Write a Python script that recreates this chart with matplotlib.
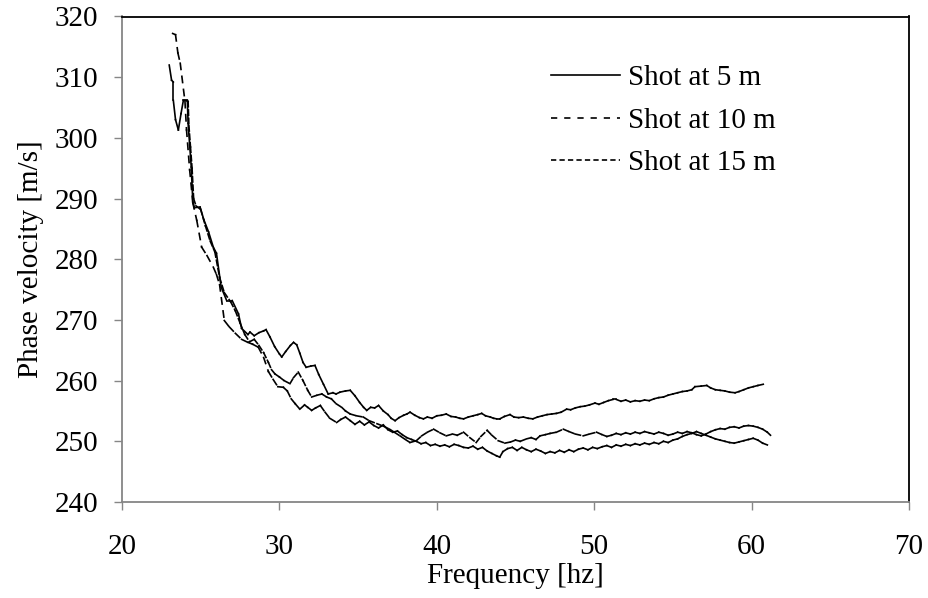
import matplotlib
matplotlib.use("Agg")
import matplotlib.pyplot as plt
from matplotlib.collections import LineCollection
from matplotlib.lines import Line2D
import numpy as np

plt.rcParams["font.family"] = ["Liberation Serif", "DejaVu Serif"]
plt.rcParams["lines.scale_dashes"] = False

# Shot at 5 m
freq_5m = [23.0, 23.15, 23.26, 23.26, 23.4, 23.58, 23.75, 23.9, 24.15, 24.2, 24.3, 24.4,
           24.5, 24.6, 24.96, 25.2, 25.5, 25.8, 26.0, 26.3, 26.65, 27.0, 27.4, 27.6,
           28.0, 28.13, 28.4, 28.7, 29.0, 29.15, 29.4, 29.7, 30.0, 30.15, 30.4, 30.7,
           30.9, 31.1, 31.3, 31.5, 31.7, 32.0, 32.26, 32.5, 32.8, 33.1, 33.4, 33.6,
           33.85, 34.2, 34.5, 34.8, 35.1, 35.35, 35.55, 35.8, 36.05, 36.3, 36.6, 36.9,
           37.1, 37.35, 37.6, 37.9, 38.1, 38.3, 38.6, 38.9, 39.15, 39.4, 39.7, 40.0,
           40.3, 40.6, 40.9, 41.2, 41.45, 41.7, 42.0, 42.3, 42.6, 42.85, 43.1, 43.4,
           43.6, 43.8, 44.0, 44.3, 44.65, 44.9, 45.2, 45.5, 45.8, 46.1, 46.4, 46.7,
           47.0, 47.3, 47.6, 47.9, 48.25, 48.5, 48.8, 49.1, 49.4, 49.7, 50.05, 50.3,
           50.6, 50.9, 51.2, 51.4, 51.7, 52.0, 52.3, 52.6, 52.9, 53.2, 53.5, 53.8,
           54.1, 54.4, 54.7, 55.0, 55.3, 55.6, 55.9, 56.2, 56.4, 56.8, 57.15, 57.4,
           57.7, 58.0, 58.3, 58.6, 58.95, 59.2, 59.5, 59.8, 60.1, 60.4, 60.74]
vel_5m = [312.0, 309.5, 309.2, 306.2, 303.0, 301.3, 304.0, 306.2, 306.2, 302.4, 298.8, 295.2,
          289.4, 288.5, 288.6, 286.5, 284.5, 282.0, 281.0, 275.4, 273.2, 273.2, 271.0, 268.6,
          267.6, 268.0, 267.4, 267.9, 268.2, 268.4, 267.2, 265.6, 264.4, 263.9, 264.8, 265.8,
          266.3, 265.9, 264.5, 263.0, 262.2, 262.4, 262.5, 261.0, 259.4, 257.8, 258.0, 257.8,
          258.1, 258.3, 258.4, 257.5, 256.4, 255.6, 255.1, 255.6, 255.5, 255.9, 255.0, 254.4,
          253.8, 253.4, 253.9, 254.3, 254.5, 254.8, 254.3, 253.9, 253.7, 254.0, 253.8, 254.2,
          254.3, 254.5, 254.1, 254.0, 253.8, 253.7, 254.0, 254.2, 254.4, 254.6, 254.2, 254.0,
          253.8, 253.7, 253.7, 254.1, 254.4, 254.0, 253.9, 254.0, 253.8, 253.7, 254.0, 254.2,
          254.4, 254.5, 254.6, 254.8, 255.3, 255.2, 255.5, 255.7, 255.8, 256.0, 256.3, 256.1,
          256.4, 256.7, 256.9, 256.9, 256.6, 256.8, 256.5, 256.7, 256.6, 256.8, 256.7, 257.0,
          257.2, 257.3, 257.6, 257.8, 258.0, 258.2, 258.3, 258.5, 259.0, 259.1, 259.2, 258.8,
          258.5, 258.4, 258.3, 258.1, 258.0, 258.2, 258.5, 258.8, 259.0, 259.2, 259.4]

# Shot at 10 m
freq_10m = [23.22, 23.4, 23.55, 23.7, 24.0, 24.1, 24.3, 24.5, 24.75, 25.06, 25.4, 25.8,
            26.0, 26.2, 26.5, 26.8, 27.2, 27.6, 28.0, 28.3, 28.66, 29.0, 29.3, 29.6,
            29.9, 30.25, 30.5, 30.75, 31.0, 31.3, 31.6, 31.8, 32.05, 32.3, 32.6, 32.9,
            33.2, 33.64, 33.9, 34.2, 34.5, 34.8, 35.1, 35.4, 35.7, 36.0, 36.3, 36.6,
            36.9, 37.2, 37.5, 37.8, 38.1, 38.4, 38.7, 39.0, 39.3, 39.6, 39.9, 40.2,
            40.5, 40.8, 41.1, 41.4, 41.7, 42.0, 42.3, 42.6, 42.9, 43.2, 43.5, 43.8,
            44.0, 44.2, 44.5, 44.8, 45.1, 45.4, 45.7, 46.0, 46.3, 46.6, 46.9, 47.2,
            47.5, 47.8, 48.1, 48.4, 48.7, 49.0, 49.3, 49.6, 49.9, 50.2, 50.5, 50.8,
            51.1, 51.4, 51.7, 52.0, 52.3, 52.6, 52.9, 53.2, 53.5, 53.8, 54.1, 54.4,
            54.7, 55.0, 55.3, 55.6, 55.9, 56.2, 56.5, 56.8, 57.1, 57.4, 57.7, 58.0,
            58.3, 58.6, 58.9, 59.2, 59.5, 59.8, 60.1, 60.4, 60.7, 61.0]
vel_10m = [317.2, 317.0, 314.0, 312.3, 306.0, 301.3, 294.7, 289.3, 286.4, 282.0, 280.6, 278.7,
           277.5, 275.8, 269.9, 268.9, 267.8, 266.8, 266.3, 266.0, 265.5, 263.8, 261.5, 260.2,
           259.0, 258.9, 258.3, 257.0, 256.2, 255.3, 256.0, 255.6, 255.1, 255.5, 255.9, 254.8,
           253.8, 253.1, 253.6, 254.0, 253.4, 252.8, 253.3, 252.7, 253.2, 252.6, 252.2, 252.7,
           251.9, 251.5, 251.7, 251.1, 250.6, 250.3, 250.0, 249.6, 249.8, 249.3, 249.5, 249.2,
           249.4, 249.1, 249.5, 249.3, 249.0, 248.9, 249.2, 248.7, 249.0, 248.4, 248.0, 247.6,
           247.4, 248.3, 248.8, 249.0, 248.5, 249.0, 248.6, 248.3, 248.7, 248.4, 248.0, 248.3,
           248.1, 248.5, 248.2, 248.6, 248.3, 248.7, 248.9, 248.6, 249.0, 248.8, 249.1, 249.3,
           249.0, 249.4, 249.2, 249.5, 249.3, 249.6, 249.4, 249.7, 249.5, 249.8, 249.6, 250.0,
           249.8, 250.2, 250.4, 250.8, 251.1, 251.3, 251.6, 251.3, 251.0, 250.7, 250.4, 250.2,
           250.0, 249.8, 249.7, 249.9, 250.1, 250.3, 250.5, 250.2, 249.7, 249.4]

# Shot at 15 m
freq_15m = [24.0, 24.2, 24.25, 24.35, 24.45, 24.55, 24.7, 25.0, 25.3, 25.6, 25.9, 26.2,
            26.5, 26.9, 27.2, 27.5, 27.8, 28.1, 28.4, 28.7, 29.0, 29.3, 29.5, 29.72,
            30.0, 30.3, 30.67, 30.9, 31.2, 31.5, 31.8, 32.05, 32.4, 32.7, 33.0, 33.3,
            33.6, 33.96, 34.2, 34.5, 34.9, 35.33, 35.7, 36.2, 36.6, 37.0, 37.3, 37.66,
            38.0, 38.3, 38.7, 39.04, 39.4, 39.8, 40.2, 40.6, 41.0, 41.3, 41.7, 42.1,
            42.5, 42.8, 43.2, 43.5, 43.9, 44.33, 44.7, 45.0, 45.3, 45.7, 46.0, 46.3,
            46.56, 46.9, 47.2, 47.6, 48.04, 48.4, 48.8, 49.3, 49.7, 50.15, 50.5, 50.8,
            51.1, 51.4, 51.7, 52.0, 52.3, 52.6, 52.9, 53.2, 53.5, 53.8, 54.1, 54.4,
            54.7, 55.0, 55.3, 55.6, 55.9, 56.2, 56.5, 56.8, 57.1, 57.4, 57.7, 58.0,
            58.3, 58.6, 58.9, 59.2, 59.5, 59.8, 60.1, 60.4, 60.7, 61.0, 61.2]
vel_15m = [306.2, 306.0, 302.0, 298.5, 295.0, 290.0, 288.8, 288.2, 285.5, 283.0, 281.2, 277.0,
           274.5, 273.0, 271.5, 269.5, 267.6, 266.4, 266.8, 265.8, 264.6, 263.0, 261.8, 261.1,
           260.6, 260.0, 259.5, 260.5, 261.4, 260.0, 258.4, 257.3, 257.6, 257.8, 257.3, 257.0,
           256.2, 255.6, 255.0, 254.5, 254.2, 254.0, 253.4, 252.9, 252.5, 252.0, 251.5, 250.9,
           250.3, 249.8, 250.1, 250.9, 251.5, 252.0, 251.4, 250.9, 251.2, 251.0, 251.5, 250.6,
           249.8, 250.8, 251.8, 251.0, 250.1, 249.7, 249.9, 250.2, 250.0, 250.4, 250.6, 250.3,
           250.9, 251.1, 251.3, 251.5, 252.0, 251.6, 251.2, 250.9, 251.2, 251.5, 251.1, 250.8,
           251.0, 251.3, 251.1, 251.4, 251.2, 251.5, 251.3, 251.6, 251.4, 251.2, 251.5, 251.3,
           251.0, 251.2, 251.5, 251.3, 251.6, 251.4, 251.1, 250.9, 251.2, 251.6, 251.9, 252.1,
           252.0, 252.3, 252.4, 252.2, 252.5, 252.6, 252.5, 252.3, 252.0, 251.5, 251.0]

series_labels = ["Shot at 5 m", "Shot at 10 m", "Shot at 15 m"]
x_ticks = [20, 30, 40, 50, 60, 70]
y_ticks = [240, 250, 260, 270, 280, 290, 300, 310, 320]

# Excel restarts the dash pattern on every segment, so dense data looks solid
styles = ["solid", (0, (4.5, 5.0)), (0, (3.8, 2.3))]
AXIS_GRAY = "#868686"
FS = 21
LW = 1.2


def segments(x, y):
    pts = np.column_stack([x, y])
    return np.stack([pts[:-1], pts[1:]], axis=1)


fig = plt.figure(figsize=(9.29, 5.98), dpi=100)
ax = fig.add_axes([122 / 929, 1 - 502 / 598, (909 - 122) / 929, (502 - 16.5) / 598])

handles = []
for (x, y), ls, label in zip(
    [(freq_5m, vel_5m), (freq_10m, vel_10m), (freq_15m, vel_15m)], styles, series_labels
):
    lc = LineCollection(segments(x, y), colors="black", linewidths=LW,
                        linestyles=[ls], capstyle="projecting", joinstyle="round")
    ax.add_collection(lc)
    handles.append(Line2D([], [], color="black", lw=LW, linestyle=ls,
                          dash_capstyle="butt", label=label))

ax.set_xlim(20, 70)
ax.set_ylim(240, 320)
ax.set_xticks(x_ticks)
ax.set_yticks(y_ticks)

for side in ["left", "bottom"]:
    ax.spines[side].set_color(AXIS_GRAY)
    ax.spines[side].set_linewidth(1.3)
for side in ["top", "right"]:
    ax.spines[side].set_color("black")
    ax.spines[side].set_linewidth(1.3)

ax.tick_params(axis="x", direction="out", length=6, width=1, color=AXIS_GRAY,
               labelsize=FS, pad=17)
ax.tick_params(axis="y", direction="out", length=6, width=1, color=AXIS_GRAY,
               labelsize=FS, pad=11)

ax.set_xlabel("Frequency [hz]", fontsize=FS, labelpad=2)
ax.set_ylabel("Phase velocity [m/s]", fontsize=FS, labelpad=8)

ax.legend(handles=handles, loc="upper left", bbox_to_anchor=(551 / 929, 1 - 65 / 598),
          bbox_transform=fig.transFigure, frameon=False, fontsize=FS,
          handlelength=2.35, handletextpad=0.28, labelspacing=0.55,
          borderpad=0, borderaxespad=0)

fig.savefig("out.png", dpi=100)
